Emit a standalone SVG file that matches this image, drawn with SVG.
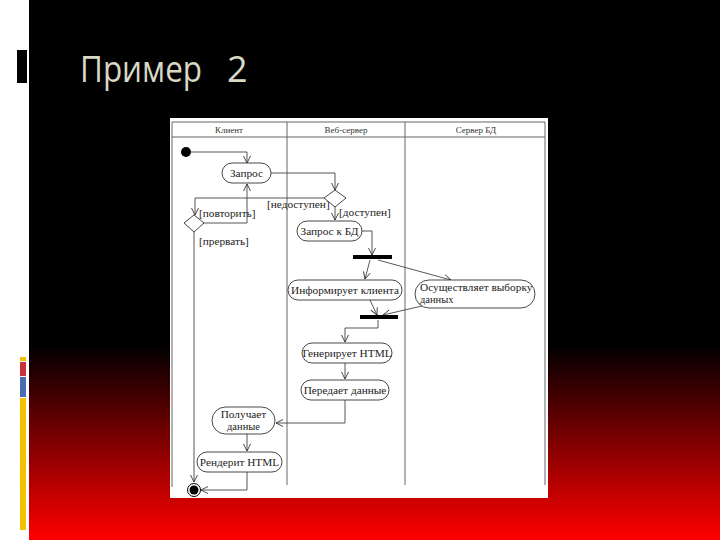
<svg xmlns="http://www.w3.org/2000/svg" width="720" height="540" viewBox="0 0 720 540">
<defs>
<linearGradient id="bg" x1="0" y1="0" x2="0" y2="540" gradientUnits="userSpaceOnUse">
<stop offset="0" stop-color="#000"/>
<stop offset="0.64" stop-color="#000"/>
<stop offset="1" stop-color="#ff0000"/>
</linearGradient>
<marker id="arr" markerWidth="8" markerHeight="8" refX="7" refY="4" orient="auto" markerUnits="userSpaceOnUse">
<path d="M0,0.5 L7,4 L0,7.5" fill="none" stroke="#333" stroke-width="0.9"/>
</marker>
<style>
.t{font-family:"Liberation Serif","Times New Roman",serif;font-size:11.3px;fill:#222}
.s{font-family:"Liberation Serif","Times New Roman",serif;font-size:10.5px;fill:#222}
.h{font-family:"Liberation Serif","Times New Roman",serif;font-size:9px;fill:#333}
.n rect{fill:#fff;stroke:#333;stroke-width:0.9}
.c{fill:none;stroke:#444;stroke-width:0.9}
.lane{stroke:#666;stroke-width:1;fill:none}
.bar{fill:#000}
</style>
</defs>
<rect x="0" y="0" width="720" height="540" fill="url(#bg)"/>
<rect x="0" y="0" width="29" height="540" fill="#fff"/>
<rect x="17" y="50" width="10" height="33" fill="#000"/>
<rect x="20" y="357" width="6" height="4" fill="#f2c200"/>
<rect x="20" y="362" width="6" height="14" fill="#c8323a"/>
<rect x="20" y="377" width="6" height="20" fill="#4a6cb0"/>
<rect x="20" y="398" width="6" height="132" fill="#f2c200"/>
<text x="80" y="82" font-family="'Open Sans','DejaVu Sans',sans-serif" font-size="36" fill="#d8d8c4" textLength="122" lengthAdjust="spacingAndGlyphs">Пример</text>
<text x="227" y="82" font-family="'Open Sans','DejaVu Sans',sans-serif" font-size="36" fill="#d8d8c4">2</text>

<g id="swimlanes">
<rect x="170" y="118" width="378" height="380" fill="#fff"/>
<line class="lane" x1="172" y1="122" x2="545" y2="122" stroke-width="2"/>
<line class="lane" x1="172" y1="137" x2="545" y2="137"/>
<line class="lane" x1="172" y1="122" x2="172" y2="487"/>
<line class="lane" x1="287" y1="122" x2="287" y2="485"/>
<line class="lane" x1="405" y1="122" x2="405" y2="485"/>
<line class="lane" x1="545" y1="122" x2="545" y2="485"/>
<text class="h" x="229" y="133" text-anchor="middle">Клиент</text>
<text class="h" x="346" y="133" text-anchor="middle">Веб-сервер</text>
<text class="h" x="476" y="133" text-anchor="middle">Сервер БД</text>
</g>

<g id="connectors">
<path class="c" d="M191,152 H247 V163" marker-end="url(#arr)"/>
<path class="c" d="M271,173 H335 V190" marker-end="url(#arr)"/>
<path class="c" d="M324,198 H195 V215" marker-end="url(#arr)"/>
<path class="c" d="M203,223 H247 V184" marker-end="url(#arr)"/>
<path class="c" d="M194,232 V482" marker-end="url(#arr)"/>
<path class="c" d="M335,207 V220" marker-end="url(#arr)"/>
<path class="c" d="M362,231 H372 V255" marker-end="url(#arr)"/>
<path class="c" d="M370,260 L365,279" marker-end="url(#arr)"/>
<path class="c" d="M378,260 L451,280" marker-end="url(#arr)"/>
<path class="c" d="M370,300 L377,315" marker-end="url(#arr)"/>
<path class="c" d="M422,306 L383,315" marker-end="url(#arr)"/>
<path class="c" d="M378,320 V328 H345 V342" marker-end="url(#arr)"/>
<path class="c" d="M345,363 V379" marker-end="url(#arr)"/>
<path class="c" d="M345,400 V423 H276" marker-end="url(#arr)"/>
<path class="c" d="M247,434 V451" marker-end="url(#arr)"/>
<path class="c" d="M247,472 V490 H201" marker-end="url(#arr)"/>
<text class="t" x="199" y="217">[повторить]</text>
<text class="t" x="199" y="245">[прервать]</text>
<text class="t" x="267" y="208">[недоступен]</text>
<text class="t" x="339" y="216">[доступен]</text>
</g>

<g id="start"><circle cx="186" cy="152" r="5" fill="#000"/></g>
<g id="end"><circle cx="194" cy="490" r="6.5" fill="#fff" stroke="#000" stroke-width="1"/><circle cx="194" cy="490" r="4.5" fill="#000"/></g>

<g id="zapros" class="n"><rect x="222" y="163" width="49" height="20" rx="10"/><text class="t" x="246.5" y="177" text-anchor="middle">Запрос</text></g>
<g id="dec1"><polygon points="194,215 204,223 194,232 184,223" fill="#fff" stroke="#333" stroke-width="0.9"/></g>
<g id="dec2"><polygon points="335,190 346,198 335,207 324,198" fill="#fff" stroke="#333" stroke-width="0.9"/></g>
<g id="zapros-bd" class="n"><rect x="297" y="221" width="65" height="20" rx="10"/><text class="t" x="329.5" y="235" text-anchor="middle">Запрос к БД</text></g>
<g id="fork1"><rect class="bar" x="353" y="255" width="39" height="4"/></g>
<g id="inform" class="n"><rect x="288" y="280" width="114" height="20" rx="10"/><text class="t" x="345" y="294" text-anchor="middle">Информирует клиента</text></g>
<g id="select" class="n"><rect x="415" y="280" width="120" height="28" rx="14"/><text class="t" x="420" y="291">Осуществляет выборку</text><text class="s" x="420" y="303">данных</text></g>
<g id="fork2"><rect class="bar" x="360" y="315" width="38" height="4"/></g>
<g id="gen" class="n"><rect x="302" y="343" width="90" height="20" rx="10"/><text class="t" x="347" y="357" text-anchor="middle">Генерирует HTML</text></g>
<g id="send" class="n"><rect x="301" y="380" width="88" height="20" rx="10"/><text class="t" x="345" y="394" text-anchor="middle">Передает данные</text></g>
<g id="recv" class="n"><rect x="212" y="407" width="63" height="27" rx="13.5"/><text class="t" x="243.5" y="418" text-anchor="middle">Получает</text><text class="s" x="243.5" y="430" text-anchor="middle">данные</text></g>
<g id="render" class="n"><rect x="197" y="452" width="85" height="20" rx="10"/><text class="t" x="239.5" y="466" text-anchor="middle">Рендерит HTML</text></g>
</svg>
